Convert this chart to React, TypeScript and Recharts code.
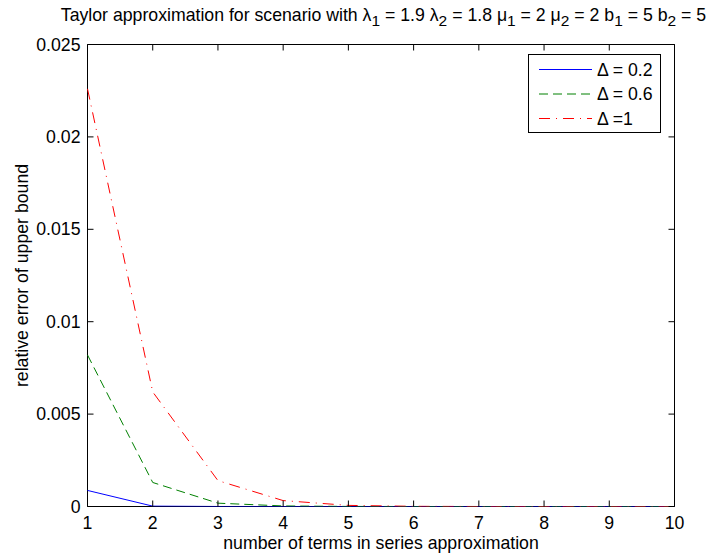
import React from 'react';
import { LineChart, Line, XAxis, YAxis, Legend, ReferenceArea, Label } from 'recharts';

// number of terms in the series approximation
const TERMS = [1, 2, 3, 4, 5, 6, 7, 8, 9, 10];

// relative error of the upper bound, one list per step size
const ERR_D02 = [0.00087, 0.00002, 0.000001, 0, 0, 0, 0, 0, 0, 0];
const ERR_D06 = [0.0082, 0.0013, 0.00018, 0.00003, 0.000004, 0, 0, 0, 0, 0];
const ERR_D1 = [0.0226, 0.0062, 0.0014, 0.00032, 0.00006, 0.00001, 0, 0, 0, 0];

const X_TICKS = [1, 2, 3, 4, 5, 6, 7, 8, 9, 10];
const Y_TICKS = [0, 0.005, 0.01, 0.015, 0.02, 0.025];

const SERIES_NAMES = ['Δ = 0.2', 'Δ = 0.6', 'Δ =1'];

const TITLE_PARTS: [string, string][] = [
  ['Taylor approximation for scenario with λ', '1'],
  [' = 1.9 λ', '2'],
  [' = 1.8 μ', '1'],
  [' = 2 μ', '2'],
  [' = 2 b', '1'],
  [' = 5 b', '2'],
  [' = 5', ''],
];

const FONT = '"Liberation Sans", Arial, Helvetica, sans-serif';
const FS = 17.7;
const W = 712;
const H = 557;
// half-pixel edges keep the 1px frame crisp
const PLOT = { left: 87.5, right: 674.5, top: 44.5, bottom: 506.5 };
const TICK_LEN = 6;

const series = [
  { key: 'd02', name: SERIES_NAMES[0], color: '#0000ff', dash: undefined as string | undefined },
  { key: 'd06', name: SERIES_NAMES[1], color: '#008000', dash: '9 5' },
  { key: 'd1', name: SERIES_NAMES[2], color: '#ff0000', dash: '11 6 1 6' },
];

const data = TERMS.map((t, i) => ({ terms: t, d02: ERR_D02[i], d06: ERR_D06[i], d1: ERR_D1[i] }));

function XTick(props: any) {
  const { x, y, payload } = props;
  return (
    <g>
      <line x1={x} x2={x} y1={y} y2={y - TICK_LEN} stroke="#000" />
      <line x1={x} x2={x} y1={PLOT.top} y2={PLOT.top + TICK_LEN} stroke="#000" />
      <text x={x} y={y + 22.5} textAnchor="middle" fontSize={FS} fill="#000" fontFamily={FONT}>
        {payload.value}
      </text>
    </g>
  );
}

function YTick(props: any) {
  const { x, y, payload } = props;
  return (
    <g>
      <line x1={x} x2={x + TICK_LEN} y1={y} y2={y} stroke="#000" />
      <line x1={PLOT.right} x2={PLOT.right - TICK_LEN} y1={y} y2={y} stroke="#000" />
      <text x={x - 7} y={y + 6} textAnchor="end" fontSize={FS} fill="#000" fontFamily={FONT}>
        {payload.value}
      </text>
    </g>
  );
}

function LegendBox() {
  return (
    <svg width={134} height={80} style={{ display: 'block' }}>
      <rect x={0.5} y={0.5} width={132} height={78} fill="#fff" stroke="#000" strokeWidth={1} />
      {series.map((s, i) => {
        const cy = 15.5 + i * 24.5;
        return (
          <g key={s.key}>
            <line x1={11} x2={64} y1={cy} y2={cy} stroke={s.color} strokeWidth={1} strokeDasharray={s.dash} />
            <text x={69} y={cy + 6} fontSize={FS} fill="#000" fontFamily={FONT}>
              {s.name}
            </text>
          </g>
        );
      })}
    </svg>
  );
}

export default function App() {
  return (
    <div style={{ position: 'absolute', left: 0, top: 0, width: W, height: H, background: '#fff', fontFamily: FONT }}>
      <LineChart
        width={W}
        height={H}
        data={data}
        margin={{ top: PLOT.top, right: W - PLOT.right, left: PLOT.left - 60, bottom: H - PLOT.bottom - 30 }}
      >
        <XAxis
          dataKey="terms"
          type="number"
          domain={[1, 10]}
          ticks={X_TICKS}
          height={30}
          axisLine={false}
          tickLine={false}
          tickSize={0}
          tickMargin={0}
          tick={<XTick />}
          interval={0}
        >
          <Label value="number of terms in series approximation" position="bottom" offset={0} fill="#000" fontSize={FS} />
        </XAxis>
        <YAxis
          type="number"
          domain={[0, 0.025]}
          ticks={Y_TICKS}
          width={60}
          axisLine={false}
          tickLine={false}
          tickSize={0}
          tickMargin={0}
          tick={<YTick />}
          interval={0}
          allowDataOverflow
        >
          <Label
            value="relative error of upper bound"
            angle={-90}
            position="insideLeft"
            offset={-6}
            fill="#000"
            fontSize={FS}
            style={{ textAnchor: 'middle' }}
          />
        </YAxis>
        <ReferenceArea x1={1} x2={10} y1={0} y2={0.025} fill="none" fillOpacity={0} stroke="#000" strokeWidth={1} ifOverflow="visible" />
        {series.map((s) => (
          <Line
            key={s.key}
            type="linear"
            dataKey={s.key}
            name={s.name}
            stroke={s.color}
            strokeWidth={1}
            strokeDasharray={s.dash}
            dot={false}
            activeDot={false}
            isAnimationActive={false}
          />
        ))}
        <Legend
          layout="vertical"
          align="center"
          verticalAlign="middle"
          content={() => <LegendBox />}
          wrapperStyle={{ left: 528, top: 54, width: 134, height: 80 }}
        />
      </LineChart>
      <svg width={W} height={40} style={{ position: 'absolute', left: 0, top: 0 }}>
        <text x={383.5} y={21} textAnchor="middle" fontSize={FS} fill="#000" fontFamily={FONT} style={{ whiteSpace: 'pre' }}>
          {TITLE_PARTS.map(([main, sub], i) => (
            <React.Fragment key={i}>
              <tspan dy={i === 0 ? 0 : -5}>{main}</tspan>
              {sub ? (
                <tspan dy={5} fontSize={15.5}>
                  {sub}
                </tspan>
              ) : null}
            </React.Fragment>
          ))}
        </text>
      </svg>
    </div>
  );
}
